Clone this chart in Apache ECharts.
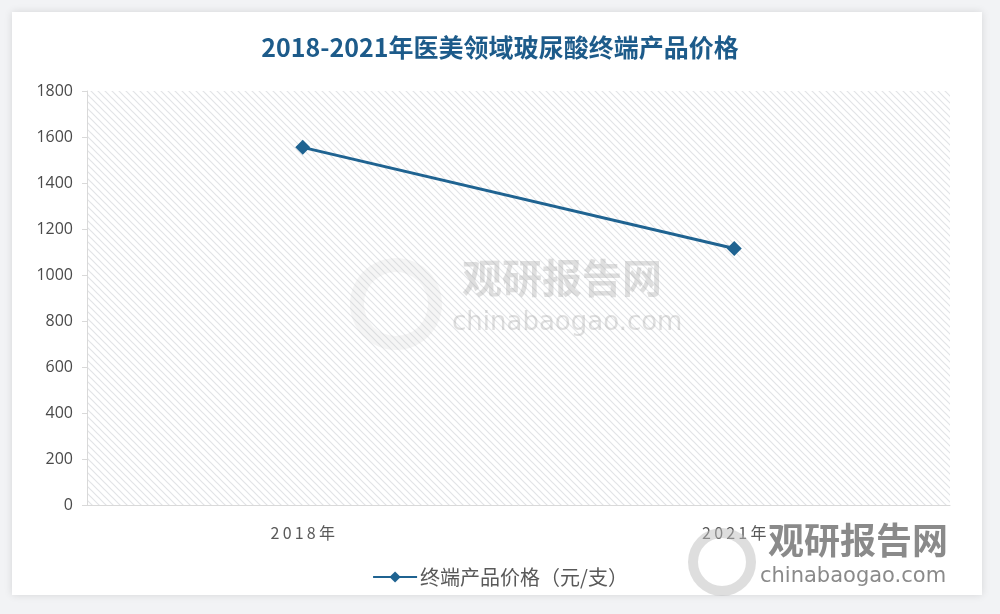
<!DOCTYPE html>
<html><head><meta charset="utf-8">
<script src="https://cdn.jsdelivr.net/npm/echarts@6/dist/echarts.min.js"></script>
<style>html,body{margin:0;padding:0;background:#f2f3f5;}#c{width:1000px;height:614px;}</style>
</head><body><div id="c"></div>
<script>
const categories = ['2018年', '2021年'];
const priceValues = [1555, 1115];
const seriesName = '终端产品价格（元/支）';
const titleText = '2018-2021年医美领域玻尿酸终端产品价格';

const pc = document.createElement('canvas');
pc.width = 7; pc.height = 7;
const g = pc.getContext('2d');
g.fillStyle = '#ffffff'; g.fillRect(0,0,7,7);
g.strokeStyle = '#e2e4e7'; g.lineWidth = 1.2;
g.beginPath();
g.moveTo(-1,-1); g.lineTo(8,8);
g.moveTo(-8,-1); g.lineTo(1,8);
g.moveTo(6,-1); g.lineTo(15,8);
g.stroke();

const chart = echarts.init(document.getElementById('c'));
chart.setOption({
  backgroundColor: '#f2f3f5',
  animation: false,
  title: {
    text: titleText, left: 'center', top: 30,
    textStyle: { fontFamily: 'Noto Sans CJK SC', fontWeight: 'bold', fontSize: 25, color: '#1d5b8a' }
  },
  graphic: [
    { type: 'rect', z: -10, shape: { x: 12, y: 12, width: 970, height: 583 },
      style: { fill: '#ffffff', shadowBlur: 8, shadowColor: 'rgba(0,0,0,0.12)' } },
    { type: 'text', z: 100, left: 462, top: 258,
      style: { text: '观研报告网', font: 'bold 40px "Noto Sans CJK SC"', fill: 'rgba(150,150,150,0.3)' } },
    { type: 'text', z: 100, left: 452, top: 310,
      style: { text: 'chinabaogao.com', font: '26px "DejaVu Sans"', fill: 'rgba(150,150,150,0.3)' } },
    { type: 'text', z: 100, left: 768, top: 522,
      style: { text: '观研报告网', font: 'bold 36px "Noto Sans CJK SC"', fill: 'rgba(125,125,125,0.9)' } },
    { type: 'text', z: 100, left: 760, top: 566,
      style: { text: 'chinabaogao.com', font: '21px "DejaVu Sans"', fill: 'rgba(125,125,125,0.9)' } },
    { type: 'ring', z: 100, left: 688, top: 528, shape: { r: 34, r0: 24 },
      style: { fill: 'rgba(190,190,190,0.5)' } },
    { type: 'ring', z: 100, left: 350, top: 258, shape: { r: 46, r0: 32 },
      style: { fill: 'rgba(190,190,190,0.15)' } }
  ],
  grid: {
    left: 87, right: 50, top: 91, bottom: 109,
    show: true, borderWidth: 0,
    backgroundColor: { image: pc, repeat: 'repeat' }
  },
  legend: {
    bottom: 22, left: 'center', itemWidth: 44, itemHeight: 14, itemGap: 4,
    textStyle: { fontFamily: 'Noto Sans CJK SC', fontSize: 20, color: '#595959', padding: [0, 0, 0, -2] },
    data: [seriesName]
  },
  xAxis: {
    type: 'category', data: categories, boundaryGap: true,
    axisLine: { lineStyle: { color: '#d9d9d9', width: 1 } },
    axisTick: { show: false },
    axisLabel: { margin: 20, fontFamily: 'Noto Sans CJK SC', fontSize: 16, color: '#595959',
      formatter: v => v.replace(/(\d)/g, '$1\u2009') }
  },
  yAxis: {
    type: 'value', min: 0, max: 1800, interval: 200,
    axisLine: { show: true, lineStyle: { color: '#d9d9d9' } },
    axisTick: { show: true, length: 5, lineStyle: { color: '#d9d9d9' } },
    splitLine: { show: false },
    axisLabel: { margin: 14, fontFamily: 'Open Sans', fontSize: 16, color: '#4a4a4a',
      formatter: v => String(v) }
  },
  series: [{
    name: seriesName, type: 'line', data: priceValues,
    symbol: 'diamond', symbolSize: 15,
    lineStyle: { color: '#1f6391', width: 3 },
    itemStyle: { color: '#1f6391' }
  }]
});
</script></body></html>
